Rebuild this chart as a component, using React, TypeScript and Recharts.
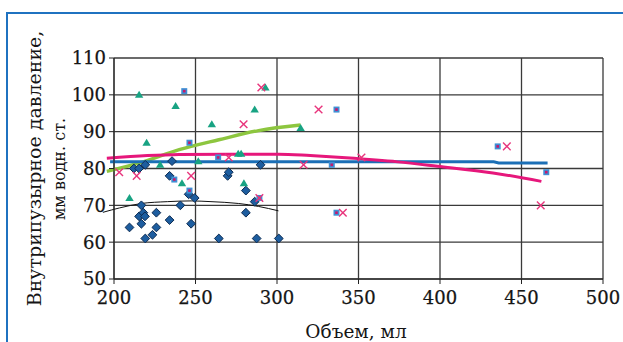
import React from 'react';
import { ComposedChart, XAxis, YAxis, CartesianGrid, Scatter, Line } from 'recharts';

const xTicks = [200, 250, 300, 350, 400, 450, 500];
const yTicks = [50, 60, 70, 80, 90, 100, 110];

// Diamonds (dark blue)
const diamondX = [209.5, 212.2, 215.4, 215.4, 216.8, 216.8, 218, 219, 219.2, 219.2, 223.6, 226, 226, 234.1, 234.1, 235.6, 240.7, 245.8, 247.3, 249.5, 264.3, 269.7, 270.4, 280.9, 280.9, 286.3, 287.5, 289.9, 301.1];
const diamondY = [64, 80, 80, 67, 70, 65, 68, 67, 61, 81, 62, 68, 64, 78, 66, 82, 70, 73, 65, 72, 61, 78, 79, 74, 68, 71, 61, 81, 61];

// Triangles (green)
const triX = [215.4, 237.8, 220, 209.5, 228.3, 241.7, 251.7, 260, 276.2, 278, 279.7, 286.3, 292.9, 314.5];
const triY = [100, 97, 87, 72, 81, 76, 82, 92, 84, 84, 76, 96, 102, 91];

// Squares (blue with magenta centre)
const sqX = [243.1, 246.3, 237, 246.3, 263.9, 289.2, 336.5, 333.6, 336.5, 435.4, 465.2];
const sqY = [101, 87, 77, 74, 83, 72, 96, 81, 68, 86, 79];

// Crosses (magenta)
const crossX = [203.2, 213.9, 247.3, 270.4, 279.5, 290.4, 289.2, 316.3, 325.5, 340.4, 351.8, 441, 461.8];
const crossY = [79, 78, 78, 83, 92, 102, 72, 81, 96, 68, 83, 86, 70];

// Trend lines
const blueLineX = [197.6, 433, 436, 466];
const blueLineY = [81.8, 81.8, 81.5, 81.5];
const pinkLineX = [195.6, 220.5, 240, 270, 301, 320.4, 342.3, 374, 398.4, 432.5, 462.2];
const pinkLineY = [82.8, 83.5, 83.8, 83.9, 83.9, 83.5, 82.9, 81.8, 80.6, 78.8, 76.5];
const greenLineX = [195.6, 215.6, 240, 264.3, 288.7, 314.5];
const greenLineY = [79.2, 81.5, 85.1, 87.8, 90.3, 91.8];
const blackLineX = [193.2, 203.4, 216.8, 232.7, 247.3, 259.5, 276.5, 288.7, 300.9];
const blackLineY = [68.1, 69.3, 70.5, 71, 71.2, 71, 70.5, 69.7, 68.5];

const pts = (xs: number[], ys: number[]) => xs.map((x, i) => ({ x, y: ys[i] }));

const diamonds = pts(diamondX, diamondY);
const triangles = pts(triX, triY);
const squares = pts(sqX, sqY);
const crosses = pts(crossX, crossY);
const blueLine = pts(blueLineX, blueLineY);
const pinkLine = pts(pinkLineX, pinkLineY);
const greenLine = pts(greenLineX, greenLineY);
const blackLine = pts(blackLineX, blackLineY);

const Diamond = (p: any) => {
  const { cx, cy } = p;
  const r = 4.4;
  return (
    <polygon
      points={`${cx},${cy - r} ${cx + r},${cy} ${cx},${cy + r} ${cx - r},${cy}`}
      fill="#1d5d9f"
      stroke="#0e2c52"
      strokeWidth={1}
    />
  );
};

const Triangle = (p: any) => {
  const { cx, cy } = p;
  return (
    <polygon
      points={`${cx},${cy - 4} ${cx + 4.2},${cy + 3} ${cx - 4.2},${cy + 3}`}
      fill="#18a383"
    />
  );
};

const Square = (p: any) => {
  const { cx, cy } = p;
  return (
    <g>
      <rect x={cx - 3} y={cy - 3} width={6} height={6} fill="#3f8fd4" />
      <rect x={cx - 1.3} y={cy - 1.3} width={2.6} height={2.6} fill="#c4196d" />
    </g>
  );
};

const Cross = (p: any) => {
  const { cx, cy } = p;
  const r = 3.8;
  return (
    <g stroke="#e8347c" strokeWidth={1.4}>
      <line x1={cx - r} y1={cy - r} x2={cx + r} y2={cy + r} />
      <line x1={cx - r} y1={cy + r} x2={cx + r} y2={cy - r} />
    </g>
  );
};

const font = '"DejaVu Serif", serif';
const tickStyle = { fill: '#151515', fontSize: 18, fontFamily: font, stroke: '#151515', strokeWidth: 0.25 };

export default function App() {
  return (
    <div style={{ position: 'absolute', left: 0, top: 0, width: 623, height: 342, overflow: 'hidden', background: '#fff' }}>
      <style>{`.recharts-line, .recharts-line * { clip-path: none !important; }`}</style>
      <div
        style={{
          position: 'absolute',
          left: 6,
          top: 12,
          width: 700,
          height: 400,
          borderLeft: '2.5px solid #1f72c0',
          borderTop: '2.5px solid #1f72c0',
        }}
      />
      <div style={{ position: 'absolute', left: 0, top: 0 }}>
        <ComposedChart
          width={623}
          height={342}
          margin={{ top: 58, right: 20, bottom: 33, left: 54 }}
        >
          <CartesianGrid stroke="#3a3a3a" strokeWidth={1.3} />
          <XAxis
            dataKey="x"
            type="number"
            domain={[200, 500]}
            ticks={xTicks}
            allowDataOverflow
            height={30}
            tickSize={5}
            tickMargin={7}
            stroke="#222"
            tick={tickStyle}
          />
          <YAxis
            dataKey="y"
            type="number"
            domain={[50, 110]}
            ticks={yTicks}
            allowDataOverflow
            width={60}
            tickSize={5}
            tickMargin={3}
            stroke="#222"
            tick={tickStyle}
          />
          <Scatter data={diamonds} shape={Diamond} isAnimationActive={false} />
          <Scatter data={triangles} shape={Triangle} isAnimationActive={false} />
          <Scatter data={squares} shape={Square} isAnimationActive={false} />
          <Scatter data={crosses} shape={Cross} isAnimationActive={false} />
          <Line data={blackLine} dataKey="y" type="monotone" stroke="#111" strokeWidth={1} dot={false} isAnimationActive={false} />
          <Line data={greenLine} dataKey="y" type="monotone" stroke="#8dc63f" strokeWidth={3.4} dot={false} isAnimationActive={false} />
          <Line data={blueLine} dataKey="y" type="linear" stroke="#1b6fb6" strokeWidth={3} dot={false} isAnimationActive={false} />
          <Line data={pinkLine} dataKey="y" type="monotone" stroke="#e6177b" strokeWidth={3} dot={false} isAnimationActive={false} />
        </ComposedChart>
      </div>
      <svg width={623} height={342} style={{ position: 'absolute', left: 0, top: 0, pointerEvents: 'none' }}>
        <text
          transform="translate(34,168.5) rotate(-90)"
          textAnchor="middle"
          dominantBaseline="central"
          fontFamily={font}
          fontSize={19}
          fill="#151515"
        >
          Внутрипузырное давление,
        </text>
        <text
          transform="translate(59.5,169) rotate(-90)"
          textAnchor="middle"
          dominantBaseline="central"
          fontFamily={font}
          fontSize={16}
          fill="#151515"
        >
          мм водн. ст.
        </text>
        <text x={356} y={338} textAnchor="middle" fontFamily={font} fontSize={18.5} fill="#151515">
          Объем, мл
        </text>
      </svg>
    </div>
  );
}
